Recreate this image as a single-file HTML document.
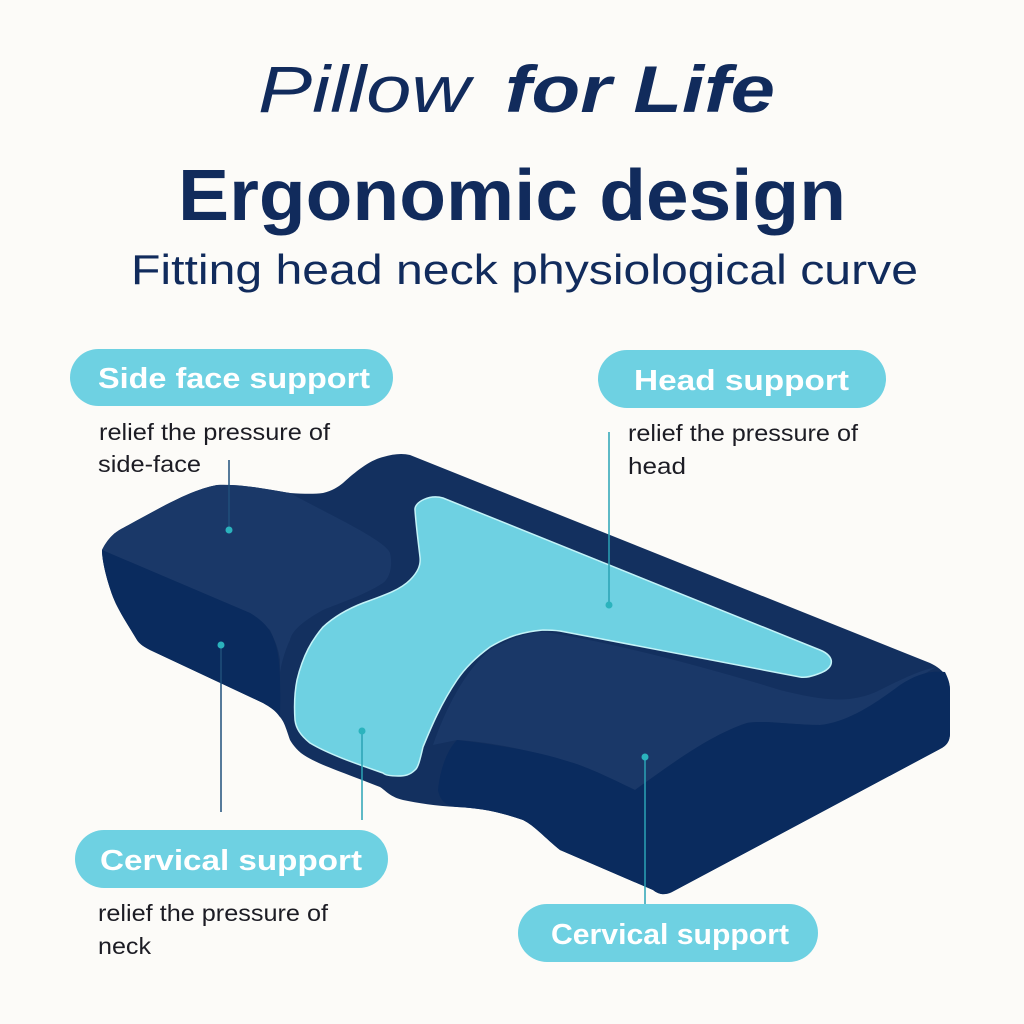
<!DOCTYPE html>
<html><head><meta charset="utf-8"><style>
html,body{margin:0;padding:0;background:#fcfbf8;}
svg{display:block}
</style></head><body>
<svg width="1024" height="1024" viewBox="0 0 1024 1024" xmlns="http://www.w3.org/2000/svg" font-family="Liberation Sans, sans-serif">
<rect width="1024" height="1024" fill="#fcfbf8"/>
<g fill="#112b5c">
<text x="258" y="112" font-size="66" font-style="italic" textLength="212" lengthAdjust="spacingAndGlyphs">Pillow</text>
<text x="505" y="112" font-size="66" font-style="italic" font-weight="bold" textLength="270" lengthAdjust="spacingAndGlyphs">for Life</text>
<text x="178" y="220" font-size="72" font-weight="bold" textLength="668" lengthAdjust="spacingAndGlyphs">Ergonomic design</text>
<text x="131" y="284" font-size="42" textLength="787" lengthAdjust="spacingAndGlyphs">Fitting head neck physiological curve</text>
</g>
<!-- pillow base (top surface dark) -->
<path d="M102,550 C108,538 115,532 123,528 C160,508 190,490 217,485 C245,484 270,490 290,493 C305,494 315,494 323,493 C332,491 338,487 343,483 C355,472 370,460 383,457 C393,454 402,453 410,455 L930,663 C945,670 950,680 950,690 L950,733 C950,742 946,746 940,749 L672,892 C664,896 658,894 653,890 L560,850 C545,838 535,826 523,820 C500,812 480,808 457,807 C435,806 418,803 403,800 C390,797 385,790 380,787 C350,775 320,765 307,757 C298,752 293,745 290,740 C285,725 284,722 280,717 C275,710 270,707 263,703 L150,650 C142,646 139,643 137,640 C128,625 118,610 113,597 C106,578 102,560 102,550 Z" fill="#13305f"/>
<!-- left lobe top face -->
<path d="M102,550 C108,538 115,532 123,528 C160,508 190,490 217,485 C245,484 270,490 290,493 C330,515 385,540 390,553 C393,565 390,578 383,583 C365,595 340,603 323,610 C305,620 292,630 290,640 C285,650 281,665 280,673 L280,660 C278,645 272,635 270,630 L250,613 Z" fill="#1a3868"/>
<!-- left front face -->
<path d="M102,550 L250,613 C262,620 270,628 274,640 C279,652 281,670 280,717 C275,710 270,707 263,703 L150,650 C142,646 139,643 137,640 C128,625 118,610 113,597 C106,578 102,560 102,550 Z" fill="#0a2b5e"/>
<!-- right lobe top face -->
<path d="M433,745 C445,710 465,670 490,650 C510,638 530,632 545,632 C600,640 700,665 780,690 C820,700 850,705 880,690 C900,680 920,670 937,667 C920,675 900,690 880,700 C860,715 840,725 820,725 C790,725 765,720 747,723 C710,735 670,765 635,790 C610,778 590,768 570,762 C530,750 490,742 457,740 Z" fill="#1a3868"/>
<!-- front face middle/right -->
<path d="M457,740 C500,745 540,752 570,762 C590,768 610,778 635,790 C670,765 710,735 747,723 C765,720 790,725 820,725 C850,722 880,700 900,685 C915,675 930,670 945,672 C949,680 950,685 950,690 L950,733 C950,742 946,746 940,749 L672,892 C664,896 658,894 653,890 L560,850 C545,838 535,826 523,820 C500,812 480,808 457,807 C445,806 440,800 438,790 C440,770 447,750 457,740 Z" fill="#0a2b5e"/>
<!-- cyan top -->
<path d="M415,510 C414,502 430,494 443,498 L820,650 C835,656 836,668 818,674 C810,677 805,678 800,677 L560,631 C553,630 548,630 543,630 C520,632 505,638 490,647 C475,658 465,668 457,680 C440,705 430,730 423,747 C420,760 418,768 415,770 C410,775 405,776 398,776 C390,776 385,775 383,773 C360,765 330,755 310,743 C300,735 296,728 295,720 C294,705 295,690 297,680 C303,655 312,640 323,627 C335,616 350,608 363,603 C385,595 400,590 410,580 C418,572 421,565 420,557 C418,540 416,525 415,510 Z" fill="#6ed1e2" stroke="#c4f3f8" stroke-width="1.5"/>
<!-- connectors -->
<g stroke="#1f4f7a" stroke-width="1.5">
<line x1="229" y1="460" x2="229" y2="530"/>
<line x1="221" y1="645" x2="221" y2="812"/>
</g>
<g stroke="#2aa3b5" stroke-width="1.5">
<line x1="362" y1="731" x2="362" y2="820"/>
<line x1="609" y1="432" x2="609" y2="605"/>
<line x1="645" y1="757" x2="645" y2="905"/>
</g>
<g fill="#2bb3bd">
<circle cx="229" cy="530" r="3.5"/><circle cx="221" cy="645" r="3.5"/><circle cx="362" cy="731" r="3.5"/><circle cx="609" cy="605" r="3.5"/><circle cx="645" cy="757" r="3.5"/>
</g>
<!-- pills -->
<g fill="#6ed1e2">
<rect x="70" y="349" width="323" height="57" rx="28.5"/>
<rect x="598" y="350" width="288" height="58" rx="29"/>
<rect x="75" y="830" width="313" height="58" rx="29"/>
<rect x="518" y="904" width="300" height="58" rx="29"/>
</g>
<g fill="#ffffff" font-weight="bold" font-size="29">
<text x="98" y="388" textLength="272" lengthAdjust="spacingAndGlyphs">Side face support</text>
<text x="634" y="390" textLength="215" lengthAdjust="spacingAndGlyphs">Head support</text>
<text x="100" y="870" textLength="262" lengthAdjust="spacingAndGlyphs">Cervical support</text>
<text x="551" y="944" textLength="238" lengthAdjust="spacingAndGlyphs">Cervical support</text>
</g>
<g fill="#1c1c24" font-size="23">
<text x="99" y="440" textLength="231" lengthAdjust="spacingAndGlyphs">relief the pressure of</text>
<text x="98" y="472" textLength="103" lengthAdjust="spacingAndGlyphs">side-face</text>
<text x="628" y="441" textLength="230" lengthAdjust="spacingAndGlyphs">relief the pressure of</text>
<text x="628" y="474" textLength="58" lengthAdjust="spacingAndGlyphs">head</text>
<text x="98" y="921" textLength="230" lengthAdjust="spacingAndGlyphs">relief the pressure of</text>
<text x="98" y="954" textLength="53" lengthAdjust="spacingAndGlyphs">neck</text>
</g>
</svg>
</body></html>
